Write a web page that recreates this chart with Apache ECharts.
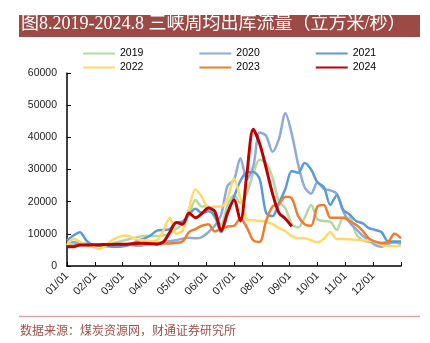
<!DOCTYPE html>
<html><head><meta charset="utf-8">
<script src="https://cdn.jsdelivr.net/npm/echarts@6/dist/echarts.min.js"></script>
<style>html,body{margin:0;padding:0;background:#fff}#c{width:430px;height:343px}</style>
</head><body><div id="c"></div>
<script>
var monthLabels = ['01/01','02/01','03/01','04/01','05/01','06/01','07/01','08/01','09/01','10/01','11/01','12/01'];
var yearNames = ['2019','2020','2021','2022','2023','2024'];
var y2019 = [6500,6800,7000,7000,6500,6300,6500,7000,7500,8000,8500,9000,9300,9300,9300,9500,10000,11500,13000,16000,20500,18500,18500,15000,13000,19000,22000,19600,22500,28900,33000,32000,27500,20000,18000,13000,12000,15000,19000,14500,14000,13800,11200,15000,15000,10000,8000,7500,7500,7300,7200,7200,7200];
var y2020 = [7500,7500,7000,6800,6500,6300,6200,6300,6500,6800,6500,6300,6500,6800,7200,7500,7800,8000,8500,8800,8600,9000,10500,12500,16000,25000,26800,33500,27000,31000,41500,40500,35500,39500,47500,41000,31500,24500,22500,26000,24000,23500,22500,17000,13500,11500,9500,8000,6500,6000,6800,7500,6800];
var y2021 = [8000,9500,10500,8000,6500,6300,6200,6000,6000,6200,6800,7800,8500,9500,11000,11200,11500,13500,13800,16000,17800,16500,17000,15500,10500,16500,21500,26500,29000,29200,27000,16500,15500,19500,24000,29500,29000,32000,30000,26000,24500,19000,22000,17500,16000,14000,13300,11800,11200,10500,7600,7600,7600];
var y2022 = [6500,8500,7500,6500,6000,5300,6300,8000,9000,9500,9000,8200,8000,7800,8000,11000,15000,10000,11000,18000,23800,21500,18000,18500,18500,21000,27200,21000,14500,14200,14000,13800,13000,11800,10800,9300,8600,8600,8000,7300,8500,10500,8400,8400,8300,8200,8000,7900,7500,6500,6200,6200,6200];
var y2023 = [6000,6200,6500,6500,6500,6500,6600,6700,6800,6800,6800,7000,7000,7000,7000,7000,7000,7200,7600,10500,11500,12500,13000,10700,11500,12300,12500,14800,12000,8000,7500,14000,18500,19300,21500,21000,15500,13000,12500,18500,19000,15000,15000,15000,14000,12800,11000,8600,7600,7100,7500,10000,8600];
var y2024 = [6000,6000,6500,6500,6600,6600,6700,6700,6800,6800,6900,7000,7100,6900,6800,7500,10500,13500,13000,16500,15000,16300,18000,17000,11000,16500,20500,14000,28500,42500,38000,30500,22500,16500,14700,12300];
var colors = ['#b5d8a0','#8eaadb','#5b9bd5','#ffd966','#ed7d31','#c00000'];
var widths = [2.5,2.5,2.5,2.5,2.5,3];
var allData = [y2019,y2020,y2021,y2022,y2023,y2024];

function toPts(arr){ return arr.map(function(v,i){ return [i*12/52, v]; }); }

var series = allData.map(function(arr,k){
  return {name: yearNames[k], type:'line', data: toPts(arr), symbol:'none', smooth:0.3,
    lineStyle:{color:colors[k], width:widths[k]}, itemStyle:{color:colors[k]}, z: k+2};
});

var chart = echarts.init(document.getElementById('c'), null, {renderer:'canvas'});
var legendCommon = {itemWidth:32, itemHeight:10, itemGap:56, icon:'path://M0,4L32,4L32,6L0,6Z',
  textStyle:{fontSize:10.5, color:'#000', fontFamily:'Arial, Liberation Sans'}};
chart.setOption({
  animation:false,
  backgroundColor:'#fff',
  graphic:[
    {type:'rect', shape:{x:19,y:15,width:401,height:22}, style:{fill:'#9b4a45'}},
    {type:'text', left:21, top:15, style:{text:'图8.2019-2024.8 三峡周均出库流量（立方米/秒）', fill:'#fff', font:'18px "Liberation Serif", "Noto Sans CJK SC", serif'}},
    {type:'line', shape:{x1:19,y1:316.5,x2:420,y2:316.5}, style:{stroke:'#d8a8a5', lineWidth:1.5}},
    {type:'text', left:20, top:324, style:{text:'数据来源：煤炭资源网，财通证券研究所', fill:'#a0504b', font:'12px "Noto Sans CJK SC", serif'}}
  ],
  legend:[
    Object.assign({data:['2019','2020','2021'], left:78, top:43}, legendCommon),
    Object.assign({data:['2022','2023','2024'], left:78, top:57}, legendCommon)
  ],
  grid:{left:67, right:29, top:73, bottom:77, containLabel:false},
  xAxis:{type:'value', min:0, max:12, interval:1,
    axisLine:{show:true, lineStyle:{color:'#000', width:1.5}},
    axisTick:{show:true, inside:true, length:4, lineStyle:{color:'#000', width:1}},
    splitLine:{show:false},
    axisLabel:{rotate:45, fontSize:11, color:'#222', fontFamily:'Arial, Liberation Sans', margin:8,
      formatter:function(v){ var k=Math.round(v); return k<12 ? monthLabels[k] : ''; }}
  },
  yAxis:{type:'value', min:0, max:60000, interval:10000,
    axisLine:{show:true, lineStyle:{color:'#000', width:1.5}},
    axisTick:{show:true, inside:true, length:4, lineStyle:{color:'#000', width:1}},
    splitLine:{show:false},
    axisLabel:{fontSize:10.5, color:'#222', fontFamily:'Arial, Liberation Sans', margin:10,
      formatter:function(v){ return String(v); }}
  },
  series: series
});
</script></body></html>
